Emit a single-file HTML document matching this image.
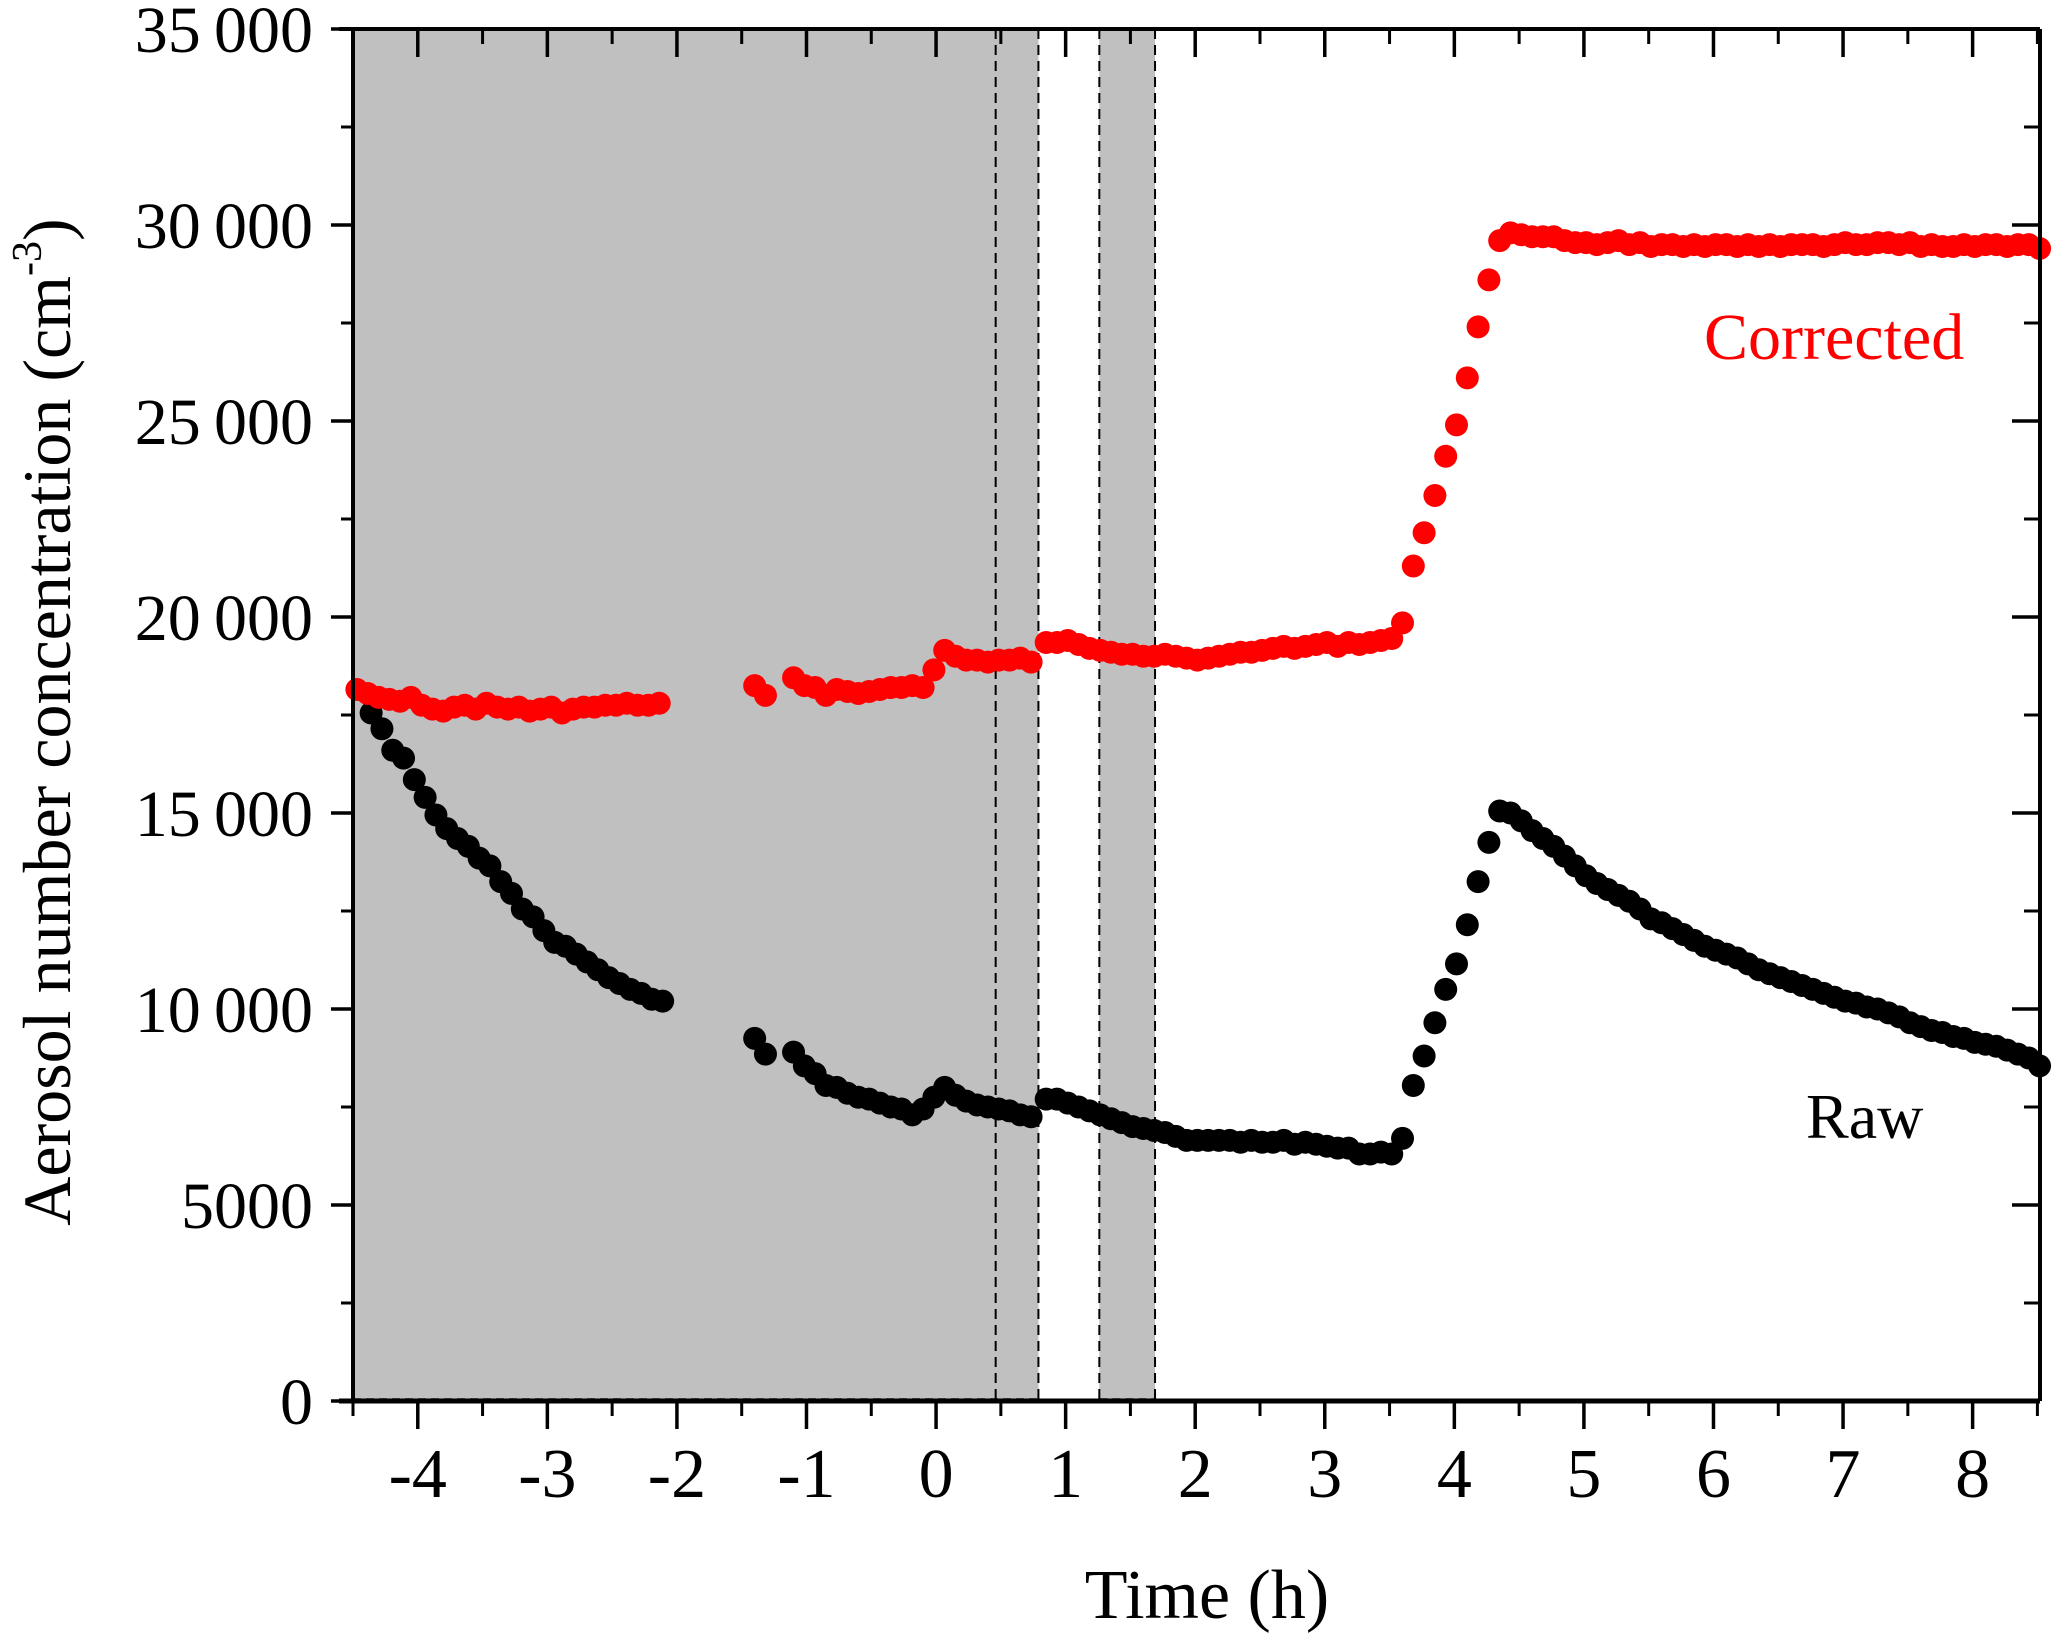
<!DOCTYPE html>
<html><head><meta charset="utf-8"><style>
html,body{margin:0;padding:0;background:#fff;}
svg{display:block;}
text{font-family:"Liberation Serif",serif;fill:#000;}
</style></head><body>
<svg id="chart" width="2067" height="1633" viewBox="0 0 2067 1633">
<g id="shade"></g>
<g id="marks"></g>
<g id="axes"></g>
<text x="1704" y="359" font-size="66" style="fill:#ff0000">Corrected</text>
<text x="1806" y="1138" font-size="64">Raw</text>
<text x="1207" y="1618" font-size="70" text-anchor="middle">Time (h)</text>
<text transform="translate(70,722) rotate(-90)" font-size="68" text-anchor="middle">Aerosol number concentration (cm<tspan dy="-29" font-size="42">-3</tspan><tspan dy="29">)</tspan></text>
</svg>
<script>
// ---- data ----
const step = 1/12;
const corrStarts = [-4.47, -1.4, -1.1, 0.85];
const corrSeg1 = [18150,18050,17950,17900,17850,17950,17750,17650,17600,17700,17750,17650,17800,17700,17650,17700,17600,17650,17700,17550,17650,17700,17700,17750,17750,17800,17750,17750,17800];
const corrSeg2 = [18250,18000];
const corrSeg3 = [18450,18250,18200,18000,18150,18100,18050,18100,18150,18200,18200,18250,18200,18650,19150,19000,18900,18900,18850,18900,18900,18950,18850];
const corrSeg4 = [19350,19350,19400,19300,19200,19150,19100,19050,19050,19000,19000,19050,19000,18950,18900,18950,19000,19050,19100,19100,19150,19200,19250,19200,19250,19300,19350,19250,19350,19300,19350,19400,19450,
 19850,21300,22150,23100,24100,24900,26100,27400,28600,29600,29800,29750,29700,29700,29700,
 29600,29550,29550,29500,29550,29600,29500,29550,29450,29500,29500,29450,29500,29450,29500,29500,29450,29500,29450,29500,29450,29500,29500,29500,29450,29500,29550,29500,29500,29550,29550,29500,29550,29450,29500,29450,29450,29500,29450,29500,29500,29450,29500,29500,29400];
const rawStarts = [-4.36, -1.4, -1.1, 0.85];
const rawSeg1 = [17550,17150,16600,16400,15850,15400,14950,14600,14350,14150,13850,13650,13250,12950,12550,12350,12000,11700,11600,11400,11200,11000,10800,10650,10500,10400,10250,10200];
const rawSeg2 = [9250,8850];
const rawSeg3 = [8900,8550,8350,8050,8000,7850,7750,7700,7600,7500,7450,7300,7450,7750,8000,7800,7650,7550,7500,7450,7400,7300,7250];
const rawSeg4 = [7700,7700,7600,7500,7400,7300,7200,7100,7000,6950,6900,6850,6750,6650,6650,6650,6650,6650,6600,6650,6600,6600,6650,6550,6600,6550,6500,6450,6450,6300,6300,6350,6300,
 6700,8050,8800,9650,10500,11150,12150,13250,14250,15050,15000,14800,14550,14350,14150,
 13900,13650,13400,13200,13050,12900,12750,12550,12300,12200,12050,11900,11750,11600,11500,11400,11300,11150,11000,10900,10800,10700,10600,10500,10400,10300,10200,10150,10050,10000,9900,9800,9650,9550,9450,9400,9300,9250,9150,9100,9050,8950,8850,8750,8550];
const xTicks = [-4,-3,-2,-1,0,1,2,3,4,5,6,7,8];
const yTicks = [0,5000,10000,15000,20000,25000,30000,35000];
const yTickLabels = ["0","5000","10\u2009000","15\u2009000","20\u2009000","25\u2009000","30\u2009000","35\u2009000"];
const shadeRanges = [[-4.5,0.79],[1.26,1.69]];
const dashLines = [0.46,0.79,1.26,1.69];

// ---- scales ----
const X0=353, X1=2040, Y0=1401, Y1=29;
const xMin=-4.5, xMax=8.52, yMin=0, yMax=35000;
const sx = v => X0 + (v-xMin)/(xMax-xMin)*(X1-X0);
const sy = v => Y0 - (v-yMin)/(yMax-yMin)*(Y0-Y1);
const NS='http://www.w3.org/2000/svg';
function mk(tag, parent){const e=document.createElementNS(NS,tag);parent.appendChild(e);return e;}

const shade=document.getElementById('shade');
shadeRanges.forEach(r=>{
  const e=mk('rect',shade);
  
  
  e.setAttribute('x',sx(r[0]));e.setAttribute('y',Y1);
  e.setAttribute('width',sx(r[1])-sx(r[0]));e.setAttribute('height',Y0-Y1);
  e.setAttribute('fill','#c0c0c0');
  const b=mk('line',shade);
  
  
  b.setAttribute('x1',sx(r[0]));b.setAttribute('x2',sx(r[1]));b.setAttribute('y1',Y0-2);b.setAttribute('y2',Y0-2);
  b.setAttribute('stroke','#000');b.setAttribute('stroke-width','1.5');b.setAttribute('stroke-dasharray','8 5');
});
dashLines.forEach(d=>{
  const e=mk('line',shade);
  
  
  e.setAttribute('x1',sx(d));e.setAttribute('x2',sx(d));e.setAttribute('y1',Y1);e.setAttribute('y2',Y0);
  e.setAttribute('stroke','#000');e.setAttribute('stroke-width','2');e.setAttribute('stroke-dasharray','10 6');
});

const marks=document.getElementById('marks');
function drawSeries(starts, segs, color, name){
  const g=mk('g',marks);
  
  
  segs.forEach((seg,si)=>{
    seg.forEach((v,i)=>{
      const c=mk('circle',g);
      
      
      c.setAttribute('cx',sx(starts[si]+i*step));
      c.setAttribute('cy',sy(v));
      c.setAttribute('r',11.5);
      c.setAttribute('fill',color);
    });
  });
}
drawSeries(rawStarts,[rawSeg1,rawSeg2,rawSeg3,rawSeg4],'#000','raw-series');
drawSeries(corrStarts,[corrSeg1,corrSeg2,corrSeg3,corrSeg4],'#ff0000','corrected-series');

const axes=document.getElementById('axes');
function line(x1,y1,x2,y2,w,name){
  const e=mk('line',axes);
  
  
  e.setAttribute('x1',x1);e.setAttribute('y1',y1);e.setAttribute('x2',x2);e.setAttribute('y2',y2);
  e.setAttribute('stroke','#000');e.setAttribute('stroke-width',w);
}
line(X0,Y1,X0,Y0,4,'left-axis');
line(X1,Y1,X1,Y0,4,'right-axis');
line(X0-14,Y1,X1,Y1,4,'top-axis');
line(X0-14,Y0,X1,Y0,5,'bottom-axis');
xTicks.forEach(t=>{
  line(sx(t),Y0,sx(t),Y0+28,3.5,'x-major-tick');
  line(sx(t),Y1,sx(t),Y1+28,3.5,'x-top-tick');
  const tx=mk('text',axes);
  
  
  tx.setAttribute('x',sx(t));tx.setAttribute('y',1497);
  tx.setAttribute('font-size','70');tx.setAttribute('text-anchor','middle');
  tx.textContent=String(t);
});
[-4.5,-3.5,-2.5,-1.5,-0.5,0.5,1.5,2.5,3.5,4.5,5.5,6.5,7.5,8.5].forEach(t=>{
  line(sx(t),Y0,sx(t),Y0+15,3,'x-minor-tick');
  line(sx(t),Y1,sx(t),Y1+15,3,'x-top-minor-tick');
});
yTicks.forEach((t,i)=>{
  line(X0-22,sy(t),X0,sy(t),3.5,'y-major-tick');
  line(X1-28,sy(t),X1,sy(t),3.5,'y-right-tick');
  const tx=mk('text',axes);
  
  
  tx.setAttribute('x',313);tx.setAttribute('y',sy(t)+23);
  tx.setAttribute('font-size','66');tx.setAttribute('text-anchor','end');
  tx.textContent=yTickLabels[i];
  if(i<yTicks.length-1){
    const m=t+2500;
    line(X0-12,sy(m),X0,sy(m),3,'y-minor-tick');
    line(X1-16,sy(m),X1,sy(m),3,'y-right-minor-tick');
  }
});
</script>
</body></html>
